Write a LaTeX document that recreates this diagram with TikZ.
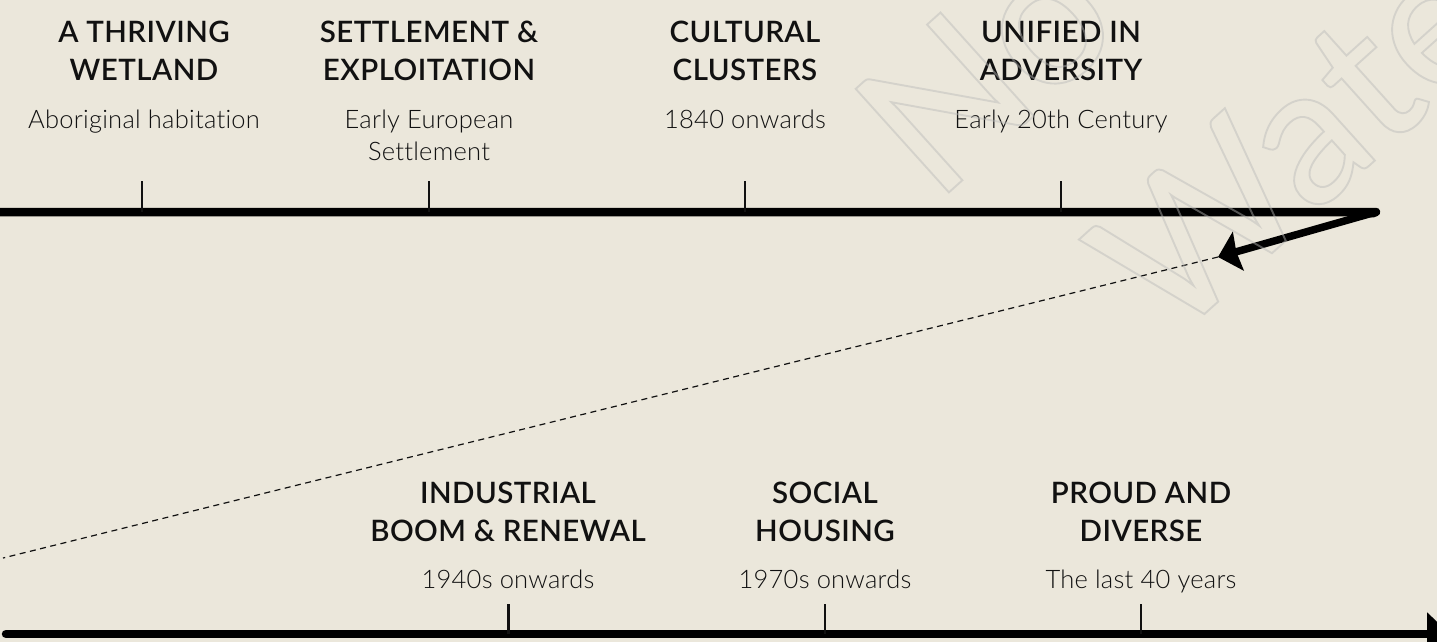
\documentclass[tikz,border=0pt]{standalone}
\usepackage{fontspec}
\usetikzlibrary{arrows.meta}
\setmainfont{Lato}
\newfontfamily\titlefont{Lato Semibold}[LetterSpace=1.5]
\newfontfamily\subfont{Lato Light}[Ligatures=NoCommon,LetterSpace=1]
\newfontfamily\wmfont{Lato Medium}
\definecolor{paper}{HTML}{EBE7DB}
\definecolor{ink}{HTML}{111111}
\tikzset{
  x=1pt,y=-1pt,
  heading/.style={align=center,inner sep=0pt,text=ink,font=\titlefont\fontsize{29.5}{38.3}\selectfont,anchor=base},
  sub/.style={align=center,inner sep=0pt,text=ink,font=\subfont\fontsize{25.5}{32}\selectfont,anchor=base},
  tickmark/.style={draw=ink,line width=2.2pt},
  axisline/.style={draw=black,line width=8.5pt,line join=round,line cap=round},
  backline/.style={draw=black,line width=7.5pt,line cap=butt,line join=round,-{Stealth[length=21pt,width=40pt,inset=2pt]}},
  forwardline/.style={draw=black,line width=8.5pt,-{Stealth[length=23pt,width=42pt,inset=0pt]}},
  dashline/.style={draw=ink,line width=1.2pt,dash pattern=on 6pt off 4.5pt},
  wmark/.style={inner sep=0pt,anchor=base west,font=\wmfont\fontsize{194}{194}\selectfont}
}
\newcommand{\outlined}[1]{\special{pdf:code q 1 Tr 1.9 w 0.73 0.73 0.72 RG}#1\special{pdf:code Q}}
\begin{document}
\begin{tikzpicture}
\path[use as bounding box,fill=paper] (0,0) rectangle (1437,642);
\coordinate (a1s) at (-6,212);
\coordinate (bend) at (1376,212);
\coordinate (a1m) at (1372,213.5);
\coordinate (a1e) at (1218,257);
\coordinate (dashend) at (3,558);
\coordinate (a2s) at (6,634);
\coordinate (a2e) at (1450,634);
\draw[dashline] (a1e) -- (dashend);
\draw[axisline] (a1s) -- (bend) -- (a1m);
\draw[backline] (bend) -- (a1e);
\draw[forwardline] (a2s) -- (a2e);
\draw[axisline,-] (a2s) -- +(10,0);
% ticks
\foreach \n/\x in {t1/142,t2/429,t3/745,t4/1061}{
  \coordinate (\n) at (\x,181);
  \coordinate (\n b) at (\x,212);
  \draw[tickmark] (\n) -- (\n b);
}
\foreach \n/\x in {t5/508.5,t6/825,t7/1141}{
  \coordinate (\n) at (\x,604);
  \coordinate (\n b) at (\x,634);
  \draw[tickmark] (\n) -- (\n b);
}
% upper labels
\node[heading] (h1) at (144,80.6) {A THRIVING\\WETLAND};
\node[heading] (h2) at (429,80.6) {SETTLEMENT \&\\EXPLOITATION};
\node[heading] (h3) at (745,80.6) {CULTURAL\\CLUSTERS};
\node[heading] (h4) at (1061,80.6) {UNIFIED IN\\ADVERSITY};
\node[sub] (s1) at (144,128) {Aboriginal habitation};
\node[sub] (s2) at (429,160) {Early European\\Settlement};
\node[sub] (s3) at (745,128) {1840 onwards};
\node[sub] (s4) at (1061,128) {Early 20th Century};
% lower labels
\node[heading] (h5) at (508,541.4) {INDUSTRIAL\\BOOM \& RENEWAL};
\node[heading] (h6) at (825,541.4) {SOCIAL\\HOUSING};
\node[heading] (h7) at (1141,541.4) {PROUD AND\\DIVERSE};
\node[sub] (s5) at (508,588) {1940s onwards};
\node[sub] (s6) at (825,588) {1970s onwards};
\node[sub] (s7) at (1141,588) {The last 40 years};
% watermark
\begin{scope}[draw opacity=0.45]
\node[wmark,rotate=42] (w1) at (936,204) {\outlined{No}};
\node[wmark,rotate=42] (w2) at (1170,345) {\outlined{Wate}};
\end{scope}
\end{tikzpicture}
\end{document}
